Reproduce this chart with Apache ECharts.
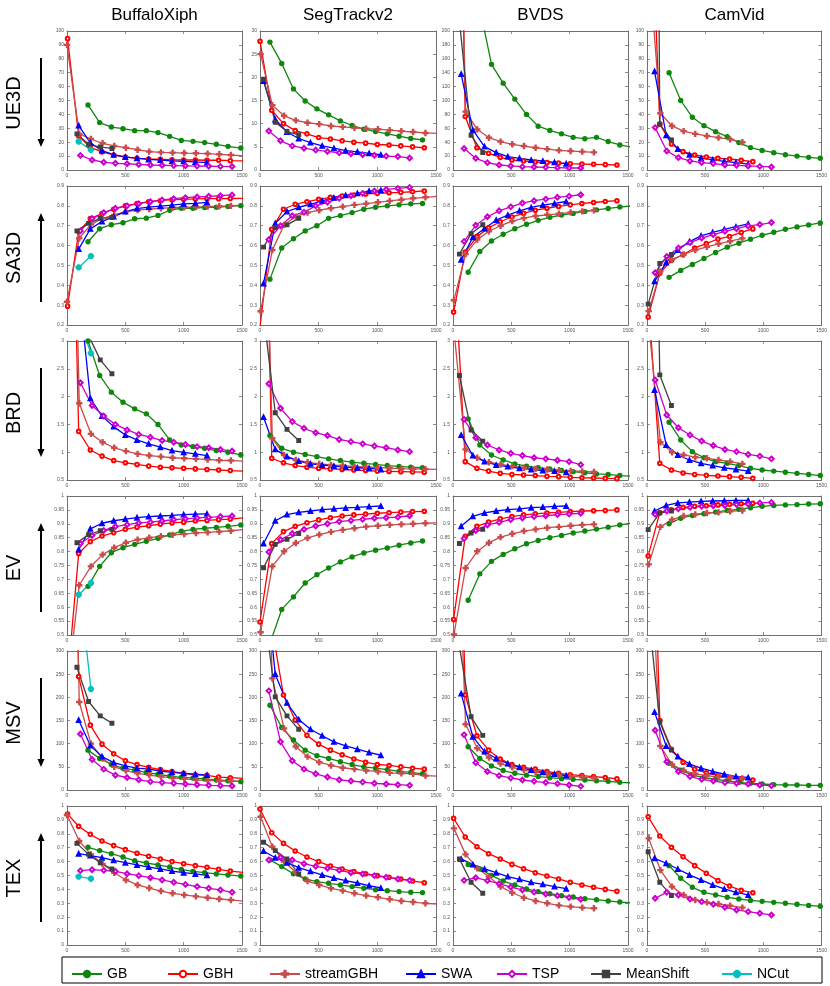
<!DOCTYPE html>
<html>
<head>
<meta charset="utf-8">
<script src="https://cdn.jsdelivr.net/npm/echarts/dist/echarts.min.js"></script>
<style>
html,body{margin:0;padding:0;background:#fff;}
#chart{width:830px;height:986px;}
</style>
</head>
<body>
<div id="chart"></div>
<script>
// ---------------- DATA ----------------
const datasets = ['BuffaloXiph', 'SegTrackv2', 'BVDS', 'CamVid'];
const metrics = ['UE3D', 'SA3D', 'BRD', 'EV', 'MSV', 'TEX'];
const methods = ['GB', 'GBH', 'streamGBH', 'SWA', 'TSP', 'MeanShift', 'NCut'];
const xTicks = [0, 500, 1000, 1500];
// [min, max, interval] of y axis per metric, per dataset
const yTicks_UE3D = [[0, 100, 10], [0, 30, 5], [0, 200, 20], [0, 100, 10]];
const yTicks_SA3D = [[0.2, 0.9, 0.1], [0.2, 0.9, 0.1], [0.2, 0.9, 0.1], [0.2, 0.9, 0.1]];
const yTicks_BRD = [[0.5, 3, 0.5], [0.5, 3, 0.5], [0.5, 3, 0.5], [0.5, 3, 0.5]];
const yTicks_EV = [[0.5, 1, 0.05], [0.5, 1, 0.05], [0.5, 1, 0.05], [0.5, 1, 0.05]];
const yTicks_MSV = [[0, 300, 50], [0, 300, 50], [0, 300, 50], [0, 300, 50]];
const yTicks_TEX = [[0, 1, 0.1], [0, 1, 0.1], [0, 1, 0.1], [0, 1, 0.1]];

// number of supervoxels (x) per dataset and method
const X_BuffaloXiph = {
  GB: [180, 280, 380, 480, 580, 680, 780, 880, 980, 1080, 1180, 1280, 1380, 1490],
  GBH: [5, 100, 200, 300, 400, 500, 600, 700, 800, 900, 1000, 1100, 1200, 1300, 1400, 1510],
  streamGBH: [0, 105, 205, 305, 405, 505, 605, 705, 805, 905, 1005, 1105, 1205, 1305, 1405, 1510],
  SWA: [100, 200, 300, 400, 500, 600, 700, 800, 900, 1000, 1100, 1200],
  TSP: [115, 215, 315, 415, 515, 615, 715, 815, 915, 1015, 1115, 1215, 1315, 1415],
  MeanShift: [85, 185, 285, 385],
  NCut: [100, 205]
};
const X_SegTrackv2 = {
  GB: [85, 185, 285, 385, 485, 585, 685, 785, 885, 985, 1085, 1185, 1285, 1385],
  GBH: [0, 100, 200, 300, 400, 500, 600, 700, 800, 900, 1000, 1100, 1200, 1300, 1400],
  streamGBH: [5, 105, 205, 305, 405, 505, 605, 705, 805, 905, 1005, 1105, 1205, 1305, 1410, 1510],
  SWA: [30, 130, 230, 330, 430, 530, 630, 730, 830, 930, 1030],
  TSP: [75, 175, 275, 375, 475, 575, 675, 775, 875, 975, 1075, 1175, 1275],
  MeanShift: [30, 130, 230, 330]
};
const X_BVDS = {
  GB: [130, 230, 330, 430, 530, 630, 730, 830, 930, 1030, 1130, 1230, 1330, 1430, 1530],
  GBH: [5, 105, 205, 305, 405, 505, 605, 705, 805, 905, 1005, 1105, 1205, 1305, 1405],
  streamGBH: [8, 108, 208, 308, 408, 508, 608, 708, 808, 908, 1008, 1108, 1208],
  SWA: [70, 170, 270, 370, 470, 570, 670, 770, 870, 970],
  TSP: [95, 195, 295, 395, 495, 595, 695, 795, 895, 995, 1095],
  MeanShift: [55, 155, 255]
};
const X_CamVid = {
  GB: [190, 290, 390, 490, 590, 690, 790, 890, 990, 1090, 1190, 1290, 1390, 1490],
  GBH: [10, 110, 210, 310, 410, 510, 610, 710, 810, 910],
  streamGBH: [15, 115, 215, 315, 415, 515, 615, 715, 820],
  SWA: [65, 165, 265, 365, 465, 565, 665, 765, 870],
  TSP: [70, 170, 270, 370, 470, 570, 670, 770, 870, 970, 1070],
  MeanShift: [10, 110, 210]
};

// ---- UE3D ----
const UE3D_BuffaloXiph = {
  GB: [46.8, 34.1, 30.9, 29.7, 28.3, 28.3, 26.9, 24.2, 21.3, 20.6, 19.7, 18.5, 17.0, 15.8],
  GBH: [94.5, 24.5, 16.3, 13, 10.8, 9.4, 8.4, 7.9, 7.7, 7.4, 7.2, 7.2, 7.0, 7.0, 6.7, 6.6],
  streamGBH: [90, 26, 22.3, 19.2, 17.3, 16, 14.6, 13.2, 12.7, 12.5, 12.2, 12, 11.8, 11.3, 10.8, 10.2],
  SWA: [32, 19.5, 14, 11, 9.3, 8.5, 7.6, 7.2, 6.5, 6.2, 5.8, 5.3],
  TSP: [10.5, 7.2, 5.6, 4.8, 4.5, 4.0, 3.6, 3.4, 3.2, 3.0, 2.8, 2.7, 2.6, 2.5],
  MeanShift: [26, 18.5, 16.5, 15.5],
  NCut: [20.5, 14.5]
};
const UE3D_SegTrackv2 = {
  GB: [27.6, 23.0, 17.5, 14.9, 13.2, 11.9, 10.6, 9.6, 8.8, 8.3, 7.8, 7.3, 6.8, 6.5],
  GBH: [27.8, 12.9, 10.0, 8.5, 7.8, 7.0, 6.7, 6.3, 6.0, 5.8, 5.5, 5.4, 5.2, 5.0, 4.8],
  streamGBH: [25, 14.0, 11.7, 10.7, 10.2, 9.9, 9.5, 9.3, 9.1, 8.9, 8.8, 8.6, 8.4, 8.2, 8.0, 7.9],
  SWA: [19.2, 10.9, 8.2, 6.8, 5.9, 5.2, 4.7, 4.2, 3.9, 3.6, 3.3],
  TSP: [8.4, 6.3, 5.2, 4.7, 4.3, 4.0, 3.7, 3.5, 3.3, 3.2, 3.0, 2.9, 2.6],
  MeanShift: [19.6, 10.3, 8.3, 7.6]
};
const UE3D_BVDS = {
  GB: [350, 233, 152, 125, 102, 80, 63, 57, 52, 47, 45, 47, 41, 36, 33],
  GBH: [950, 77, 32, 24, 18.2, 14.4, 13, 11.5, 10.6, 10, 9.1, 8.6, 8.2, 7.7, 7.2],
  streamGBH: [900, 84, 58.5, 46.5, 40.8, 37, 34.5, 32, 30, 28.3, 27.3, 26.4, 25.4],
  SWA: [138, 57.6, 33.6, 25, 19.2, 16.8, 14.4, 13, 11, 9.1],
  TSP: [31, 16.8, 10.6, 7.2, 5.8, 4.8, 4.3, 3.8, 3.4, 2.9, 2.9],
  MeanShift: [215, 50, 25]
};
const UE3D_CamVid = {
  GB: [70, 50, 37.9, 31.9, 27.6, 24, 19.7, 16.1, 14.1, 12.5, 11, 10, 9.1, 8.4],
  GBH: [256, 33, 18.7, 13.2, 10.8, 9.4, 8.4, 7.9, 7.0, 6.0],
  streamGBH: [150, 40.8, 31.7, 28, 26, 24.5, 23.3, 22, 20],
  SWA: [71, 25, 15, 11, 8.5, 7.4, 6.2, 5.3, 4.2],
  TSP: [30.5, 13.7, 8.9, 6.5, 5.3, 4.6, 3.6, 3.4, 2.9, 2.6, 2.2],
  MeanShift: [1300, 33, 21.6]
};

// ---- SA3D ----
const SA3D_BuffaloXiph = {
  GB: [0.619, 0.685, 0.705, 0.715, 0.735, 0.738, 0.752, 0.778, 0.788, 0.788, 0.792, 0.793, 0.797, 0.801],
  GBH: [0.295, 0.67, 0.736, 0.761, 0.783, 0.80, 0.811, 0.821, 0.826, 0.831, 0.833, 0.835, 0.836, 0.836, 0.837, 0.838],
  streamGBH: [0.317, 0.637, 0.707, 0.737, 0.754, 0.771, 0.779, 0.784, 0.788, 0.791, 0.793, 0.794, 0.796, 0.798, 0.80, 0.803],
  SWA: [0.582, 0.684, 0.721, 0.746, 0.771, 0.786, 0.794, 0.799, 0.804, 0.81, 0.813, 0.818],
  TSP: [0.674, 0.736, 0.766, 0.788, 0.80, 0.811, 0.821, 0.83, 0.836, 0.841, 0.845, 0.848, 0.851, 0.855],
  MeanShift: [0.674, 0.712, 0.737, 0.741],
  NCut: [0.49, 0.547]
};
const SA3D_SegTrackv2 = {
  GB: [0.431, 0.588, 0.634, 0.674, 0.70, 0.737, 0.751, 0.766, 0.783, 0.793, 0.80, 0.805, 0.81, 0.812],
  GBH: [0.19, 0.682, 0.783, 0.808, 0.821, 0.833, 0.843, 0.85, 0.855, 0.86, 0.863, 0.866, 0.868, 0.871, 0.875],
  streamGBH: [0.269, 0.577, 0.704, 0.746, 0.766, 0.778, 0.788, 0.796, 0.805, 0.811, 0.818, 0.825, 0.831, 0.838, 0.843, 0.848],
  SWA: [0.409, 0.712, 0.771, 0.793, 0.808, 0.825, 0.841, 0.853, 0.863, 0.875, 0.878],
  TSP: [0.63, 0.70, 0.75, 0.768, 0.80, 0.818, 0.838, 0.851, 0.863, 0.875, 0.883, 0.888, 0.893],
  MeanShift: [0.592, 0.691, 0.704, 0.737]
};
const SA3D_BVDS = {
  GB: [0.466, 0.57, 0.623, 0.657, 0.685, 0.707, 0.727, 0.742, 0.754, 0.762, 0.772, 0.78, 0.787, 0.794, 0.80],
  GBH: [0.265, 0.567, 0.645, 0.689, 0.72, 0.744, 0.762, 0.778, 0.788, 0.797, 0.805, 0.812, 0.817, 0.822, 0.826],
  streamGBH: [0.325, 0.557, 0.63, 0.672, 0.70, 0.723, 0.738, 0.749, 0.755, 0.76, 0.767, 0.772, 0.777],
  SWA: [0.528, 0.642, 0.686, 0.728, 0.754, 0.775, 0.792, 0.804, 0.812, 0.822],
  TSP: [0.621, 0.702, 0.745, 0.775, 0.795, 0.814, 0.826, 0.834, 0.843, 0.849, 0.856],
  MeanShift: [0.557, 0.66, 0.705]
};
const SA3D_CamVid = {
  GB: [0.44, 0.475, 0.505, 0.535, 0.565, 0.592, 0.612, 0.632, 0.652, 0.667, 0.682, 0.694, 0.704, 0.714],
  GBH: [0.24, 0.46, 0.525, 0.555, 0.588, 0.61, 0.633, 0.646, 0.666, 0.684],
  streamGBH: [0.27, 0.47, 0.53, 0.555, 0.577, 0.594, 0.609, 0.622, 0.636],
  SWA: [0.42, 0.515, 0.578, 0.62, 0.649, 0.667, 0.682, 0.695, 0.709],
  TSP: [0.463, 0.545, 0.588, 0.615, 0.638, 0.655, 0.672, 0.685, 0.699, 0.706, 0.716],
  MeanShift: [0.305, 0.51, 0.555]
};

// ---- BRD ----
const BRD_BuffaloXiph = {
  GB: [3.0, 2.38, 2.08, 1.90, 1.78, 1.69, 1.50, 1.22, 1.13, 1.10, 1.07, 1.03, 1.0, 0.95],
  GBH: [10, 1.375, 1.04, 0.93, 0.85, 0.81, 0.78, 0.75, 0.73, 0.72, 0.71, 0.70, 0.69, 0.68, 0.67, 0.66],
  streamGBH: [12, 1.88, 1.33, 1.18, 1.08, 1.02, 0.97, 0.94, 0.92, 0.90, 0.89, 0.88, 0.87, 0.855, 0.85, 0.84],
  SWA: [4.0, 1.97, 1.65, 1.46, 1.31, 1.22, 1.15, 1.09, 1.03, 0.996, 0.97, 0.94],
  TSP: [2.25, 1.84, 1.65, 1.50, 1.40, 1.32, 1.27, 1.21, 1.18, 1.14, 1.10, 1.08, 1.05, 1.02],
  MeanShift: [4.5, 3.1, 2.66, 2.41],
  NCut: [3.4, 2.78]
};
const BRD_SegTrackv2 = {
  GB: [1.3, 1.07, 1.0, 0.96, 0.92, 0.88, 0.85, 0.82, 0.80, 0.78, 0.76, 0.745, 0.73, 0.72],
  GBH: [11.4, 0.89, 0.81, 0.76, 0.73, 0.71, 0.70, 0.69, 0.68, 0.67, 0.66, 0.655, 0.65, 0.645, 0.64],
  streamGBH: [9, 1.25, 0.95, 0.86, 0.82, 0.79, 0.77, 0.76, 0.745, 0.735, 0.725, 0.715, 0.705, 0.70, 0.695, 0.69],
  SWA: [1.63, 1.05, 0.92, 0.84, 0.79, 0.77, 0.75, 0.73, 0.72, 0.71, 0.69],
  TSP: [2.23, 1.79, 1.55, 1.43, 1.35, 1.30, 1.23, 1.19, 1.15, 1.11, 1.08, 1.04, 1.01],
  MeanShift: [3.5, 1.71, 1.41, 1.21]
};
const BRD_BVDS = {
  GB: [1.6, 1.13, 0.95, 0.86, 0.79, 0.75, 0.72, 0.70, 0.67, 0.65, 0.63, 0.61, 0.60, 0.58, 0.57],
  GBH: [4.7, 0.83, 0.71, 0.66, 0.62, 0.60, 0.59, 0.58, 0.566, 0.56, 0.548, 0.54, 0.536, 0.53, 0.524],
  streamGBH: [3.2, 1.05, 0.9, 0.82, 0.78, 0.75, 0.72, 0.70, 0.69, 0.675, 0.665, 0.655, 0.645],
  SWA: [1.31, 0.94, 0.83, 0.77, 0.74, 0.71, 0.69, 0.67, 0.66, 0.64],
  TSP: [1.59, 1.26, 1.13, 1.04, 0.98, 0.94, 0.90, 0.88, 0.855, 0.83, 0.775],
  MeanShift: [2.38, 1.40, 1.2]
};
const BRD_CamVid = {
  GB: [1.54, 1.22, 1.01, 0.90, 0.83, 0.80, 0.76, 0.71, 0.68, 0.66, 0.64, 0.62, 0.60, 0.58],
  GBH: [3.8, 0.80, 0.68, 0.626, 0.60, 0.584, 0.572, 0.56, 0.548, 0.53],
  streamGBH: [3.3, 1.18, 1.0, 0.95, 0.91, 0.89, 0.86, 0.83, 0.79],
  SWA: [2.12, 1.13, 0.95, 0.86, 0.80, 0.76, 0.72, 0.69, 0.66],
  TSP: [2.30, 1.67, 1.44, 1.31, 1.20, 1.12, 1.05, 1.01, 0.96, 0.93, 0.88],
  MeanShift: [14, 2.39, 1.84]
};

// ---- EV ----
const EV_BuffaloXiph = {
  GB: [0.675, 0.747, 0.796, 0.814, 0.826, 0.837, 0.848, 0.86, 0.873, 0.88, 0.884, 0.887, 0.891, 0.896],
  GBH: [0.34, 0.793, 0.836, 0.856, 0.868, 0.88, 0.888, 0.893, 0.899, 0.903, 0.906, 0.91, 0.912, 0.915, 0.917, 0.921],
  streamGBH: [0.3, 0.679, 0.747, 0.789, 0.814, 0.832, 0.843, 0.85, 0.855, 0.86, 0.863, 0.867, 0.869, 0.872, 0.875, 0.879],
  SWA: [0.807, 0.882, 0.902, 0.911, 0.917, 0.922, 0.926, 0.928, 0.93, 0.933, 0.935, 0.936],
  TSP: [0.829, 0.858, 0.876, 0.89, 0.897, 0.903, 0.906, 0.91, 0.915, 0.918, 0.921, 0.923, 0.926, 0.928],
  MeanShift: [0.832, 0.861, 0.875, 0.88],
  NCut: [0.645, 0.687]
};
const EV_SegTrackv2 = {
  GB: [0.47, 0.592, 0.637, 0.687, 0.717, 0.741, 0.763, 0.781, 0.795, 0.805, 0.813, 0.823, 0.831, 0.838],
  GBH: [0.547, 0.829, 0.872, 0.891, 0.904, 0.914, 0.922, 0.928, 0.932, 0.935, 0.938, 0.94, 0.942, 0.944, 0.945],
  streamGBH: [0.51, 0.747, 0.801, 0.831, 0.849, 0.861, 0.871, 0.878, 0.884, 0.89, 0.893, 0.896, 0.898, 0.90, 0.902, 0.903],
  SWA: [0.829, 0.911, 0.933, 0.941, 0.946, 0.951, 0.954, 0.957, 0.959, 0.962, 0.964],
  TSP: [0.799, 0.843, 0.865, 0.88, 0.892, 0.90, 0.908, 0.912, 0.916, 0.92, 0.922, 0.924, 0.929],
  MeanShift: [0.742, 0.826, 0.844, 0.865]
};
const EV_BVDS = {
  GB: [0.625, 0.72, 0.765, 0.79, 0.81, 0.828, 0.84, 0.85, 0.858, 0.867, 0.874, 0.881, 0.888, 0.896, 0.902],
  GBH: [0.556, 0.855, 0.891, 0.906, 0.918, 0.926, 0.932, 0.936, 0.939, 0.941, 0.944, 0.946, 0.947, 0.948, 0.95],
  streamGBH: [0.502, 0.741, 0.801, 0.832, 0.852, 0.864, 0.874, 0.88, 0.886, 0.889, 0.893, 0.896, 0.898],
  SWA: [0.891, 0.927, 0.939, 0.946, 0.951, 0.954, 0.958, 0.96, 0.963, 0.964],
  TSP: [0.847, 0.876, 0.896, 0.905, 0.915, 0.921, 0.926, 0.929, 0.933, 0.935, 0.938],
  MeanShift: [0.829, 0.867, 0.88]
};
const EV_CamVid = {
  GB: [0.90, 0.92, 0.93, 0.936, 0.942, 0.948, 0.952, 0.958, 0.963, 0.966, 0.968, 0.969, 0.971, 0.972],
  GBH: [0.784, 0.94, 0.95, 0.959, 0.963, 0.965, 0.968, 0.97, 0.972, 0.974],
  streamGBH: [0.754, 0.889, 0.915, 0.928, 0.934, 0.939, 0.941, 0.945, 0.948],
  SWA: [0.946, 0.966, 0.975, 0.978, 0.981, 0.982, 0.983, 0.984, 0.984],
  TSP: [0.934, 0.946, 0.954, 0.959, 0.963, 0.965, 0.966, 0.969, 0.971, 0.975, 0.977],
  MeanShift: [0.879, 0.939, 0.946]
};

// ---- MSV ----
const MSV_BuffaloXiph = {
  GB: [86, 68, 55, 47, 43, 38, 34, 30, 27.3, 26, 24, 21.6, 20, 18],
  GBH: [1500, 245, 140, 99, 78, 63, 55, 49, 44, 40, 36, 33, 31.6, 28, 26.6, 25],
  streamGBH: [1500, 190, 100, 68, 50, 42, 36, 32, 29, 26, 24, 22, 21, 20, 19.4, 18],
  SWA: [151, 96, 72, 59, 52, 47, 45, 41, 38, 36, 34, 32],
  TSP: [121, 66, 45, 32, 27, 22, 18, 16, 14.4, 13, 11.5, 10, 9.4, 8.6],
  MeanShift: [265, 191, 160, 144],
  NCut: [460, 218]
};
const MSV_SegTrackv2 = {
  GB: [183, 135, 108, 86, 74, 68, 61, 55, 50, 47, 44, 40, 38, 35],
  GBH: [1000, 353, 205, 151, 118, 99, 86, 76, 67, 60, 55, 53, 50, 47, 45],
  streamGBH: [1000, 241, 133, 94, 72, 60, 53, 48, 45, 42, 40, 37, 36, 35, 31, 30],
  SWA: [500, 250, 188, 152, 131, 117, 104, 95, 88, 81, 75],
  TSP: [214, 104, 63, 45, 35, 28, 22, 19.4, 17, 14.4, 13, 11.5, 10],
  MeanShift: [400, 201, 160, 131]
};
const MSV_BVDS = {
  GB: [93.5, 68, 52, 42, 36, 32, 29, 26.6, 24.5, 23, 21.6, 20, 18.7, 16.5, 15.5],
  GBH: [1200, 205, 117, 86, 67, 55, 49, 45, 40, 36, 33, 31, 29, 27, 24],
  streamGBH: [800, 142, 90, 70, 57, 49, 43, 39, 35, 32, 30, 28, 26],
  SWA: [208, 115, 83, 68, 57, 49, 43, 38, 34.5, 31],
  TSP: [119, 59, 40, 31, 26, 21.6, 18.7, 16, 13.7, 10.8, 7.9],
  MeanShift: [310, 158, 118]
};
const MSV_CamVid = {
  GB: [57.6, 43, 32, 27, 23, 20, 16.5, 14.4, 13, 11.5, 10.8, 10.8, 10, 10],
  GBH: [1000, 150, 88, 60, 45, 37, 31, 27, 24, 21.6],
  streamGBH: [600, 95, 55, 42, 35, 31, 28, 26, 25],
  SWA: [168, 95, 72, 56, 47, 40, 34, 29, 27],
  TSP: [129, 61, 40, 29, 23, 19.4, 16, 14.4, 13, 10.8, 9.4],
  MeanShift: [390, 147, 86]
};

// ---- TEX ----
const TEX_BuffaloXiph = {
  GB: [0.703, 0.679, 0.657, 0.633, 0.607, 0.59, 0.576, 0.561, 0.544, 0.53, 0.52, 0.511, 0.504, 0.496],
  GBH: [0.942, 0.854, 0.796, 0.748, 0.715, 0.686, 0.66, 0.638, 0.619, 0.60, 0.585, 0.571, 0.559, 0.544, 0.532, 0.522],
  streamGBH: [0.935, 0.748, 0.652, 0.583, 0.52, 0.468, 0.432, 0.41, 0.388, 0.372, 0.36, 0.35, 0.34, 0.331, 0.324, 0.316],
  SWA: [0.657, 0.643, 0.628, 0.609, 0.592, 0.576, 0.561, 0.547, 0.532, 0.52, 0.511, 0.501],
  TSP: [0.535, 0.542, 0.537, 0.53, 0.513, 0.499, 0.484, 0.468, 0.451, 0.436, 0.42, 0.408, 0.396, 0.379],
  MeanShift: [0.731, 0.652, 0.592, 0.547],
  NCut: [0.492, 0.477]
};
const TEX_SegTrackv2 = {
  GB: [0.612, 0.564, 0.513, 0.475, 0.456, 0.444, 0.432, 0.42, 0.408, 0.398, 0.391, 0.384, 0.379, 0.377],
  GBH: [0.978, 0.808, 0.731, 0.676, 0.633, 0.60, 0.568, 0.547, 0.528, 0.513, 0.499, 0.487, 0.475, 0.46, 0.448],
  streamGBH: [0.923, 0.707, 0.60, 0.523, 0.46, 0.432, 0.408, 0.391, 0.372, 0.355, 0.343, 0.329, 0.317, 0.309, 0.30, 0.295],
  SWA: [0.676, 0.628, 0.592, 0.556, 0.53, 0.504, 0.482, 0.463, 0.446, 0.427, 0.41],
  TSP: [0.612, 0.631, 0.612, 0.585, 0.566, 0.552, 0.537, 0.52, 0.511, 0.499, 0.487, 0.475, 0.465],
  MeanShift: [0.739, 0.679, 0.619, 0.511]
};
const TEX_BVDS = {
  GB: [0.58, 0.547, 0.501, 0.46, 0.432, 0.403, 0.384, 0.369, 0.355, 0.345, 0.333, 0.326, 0.317, 0.309, 0.303],
  GBH: [0.911, 0.777, 0.707, 0.657, 0.619, 0.58, 0.549, 0.52, 0.496, 0.475, 0.451, 0.432, 0.415, 0.40, 0.386],
  streamGBH: [0.839, 0.652, 0.552, 0.492, 0.42, 0.376, 0.34, 0.317, 0.30, 0.285, 0.276, 0.269, 0.264],
  SWA: [0.619, 0.578, 0.547, 0.52, 0.492, 0.472, 0.451, 0.436, 0.42, 0.405],
  TSP: [0.465, 0.484, 0.463, 0.441, 0.417, 0.396, 0.381, 0.367, 0.355, 0.341, 0.329],
  MeanShift: [0.619, 0.451, 0.372]
};
const TEX_CamVid = {
  GB: [0.571, 0.48, 0.415, 0.379, 0.36, 0.343, 0.331, 0.321, 0.314, 0.307, 0.30, 0.293, 0.285, 0.278],
  GBH: [0.923, 0.784, 0.703, 0.635, 0.571, 0.516, 0.463, 0.424, 0.393, 0.376],
  streamGBH: [0.767, 0.539, 0.42, 0.36, 0.324, 0.307, 0.295, 0.283, 0.269],
  SWA: [0.623, 0.588, 0.547, 0.504, 0.468, 0.432, 0.403, 0.379, 0.36],
  TSP: [0.336, 0.379, 0.36, 0.331, 0.312, 0.293, 0.271, 0.252, 0.24, 0.228, 0.216],
  MeanShift: [0.671, 0.451, 0.355]
};

// ---------------- ASSEMBLY ----------------
const X = { BuffaloXiph: X_BuffaloXiph, SegTrackv2: X_SegTrackv2, BVDS: X_BVDS, CamVid: X_CamVid };
const Y = {
  UE3D: [UE3D_BuffaloXiph, UE3D_SegTrackv2, UE3D_BVDS, UE3D_CamVid],
  SA3D: [SA3D_BuffaloXiph, SA3D_SegTrackv2, SA3D_BVDS, SA3D_CamVid],
  BRD: [BRD_BuffaloXiph, BRD_SegTrackv2, BRD_BVDS, BRD_CamVid],
  EV: [EV_BuffaloXiph, EV_SegTrackv2, EV_BVDS, EV_CamVid],
  MSV: [MSV_BuffaloXiph, MSV_SegTrackv2, MSV_BVDS, MSV_CamVid],
  TEX: [TEX_BuffaloXiph, TEX_SegTrackv2, TEX_BVDS, TEX_CamVid]
};
const YT = { UE3D: yTicks_UE3D, SA3D: yTicks_SA3D, BRD: yTicks_BRD, EV: yTicks_EV, MSV: yTicks_MSV, TEX: yTicks_TEX };
const arrowUp = { UE3D: false, SA3D: true, BRD: false, EV: true, MSV: false, TEX: true };

const PLUS = 'path://M2,0H3V2H5V3H3V5H2V3H0V2H2Z';
const STAR = 'path://M2.1,0H2.9V2.1H5V2.9H2.9V5H2.1V2.9H0V2.1H2.1Z M0.6,1.1L1.1,0.6L4.4,3.9L3.9,4.4Z M3.9,0.6L4.4,1.1L1.1,4.4L0.6,3.9Z';
const STYLE = {
  GB: { color: '#0f870f', symbol: 'circle', size: 4 },
  GBH: { color: '#ff0000', symbol: 'emptyCircle', size: 3.6 },
  streamGBH: { color: '#c84c4c', symbol: PLUS, size: 5 },
  SWA: { color: '#0000ff', symbol: 'triangle', size: 4.5 },
  TSP: { color: '#cc00cc', symbol: 'emptyDiamond', size: 4.6 },
  MeanShift: { color: '#404040', symbol: 'rect', size: 3.5 },
  NCut: { color: '#00c0c0', symbol: STAR, size: 5 }
};

const GRID_LEFT = [67, 260, 453, 647];
const GRID_W = [175, 176, 175, 175];
const GRID_TOP = [31, 186, 341, 496, 651, 806];
const GRID_H = 139;
const FONT = '"Liberation Sans", Arial, Helvetica, sans-serif';
const AX = '#707070';

const grids = [], xAxes = [], yAxes = [], series = [];
metrics.forEach((m, r) => {
  datasets.forEach((d, c) => {
    const g = grids.length;
    grids.push({ left: GRID_LEFT[c], top: GRID_TOP[r], width: GRID_W[c], height: GRID_H });
    const tickCommon = { show: true, inside: true, length: 3, lineStyle: { color: AX, width: 0.8 } };
    const lineCommon = { show: true, onZero: false, lineStyle: { color: AX, width: 1 } };
    xAxes.push({
      gridIndex: g, type: 'value', position: 'bottom', min: xTicks[0], max: xTicks[xTicks.length - 1],
      interval: xTicks[1] - xTicks[0],
      axisLine: lineCommon, axisTick: tickCommon, splitLine: { show: false },
      axisLabel: { show: true, fontSize: 5, color: '#555', margin: 3, fontFamily: FONT,
        formatter: v => String(v) }
    });
    xAxes.push({
      gridIndex: g, type: 'value', position: 'top', min: xTicks[0], max: xTicks[xTicks.length - 1],
      interval: xTicks[1] - xTicks[0],
      axisLine: lineCommon, axisTick: tickCommon, splitLine: { show: false }, axisLabel: { show: false }
    });
    const yt = YT[m][c];
    yAxes.push({
      gridIndex: g, type: 'value', position: 'left', min: yt[0], max: yt[1], interval: yt[2],
      axisLine: lineCommon, axisTick: tickCommon, splitLine: { show: false },
      axisLabel: { show: true, fontSize: 5, color: '#555', margin: 3, fontFamily: FONT,
        formatter: v => String(+v.toFixed(3)) }
    });
    yAxes.push({
      gridIndex: g, type: 'value', position: 'right', min: yt[0], max: yt[1], interval: yt[2],
      axisLine: lineCommon, axisTick: tickCommon, splitLine: { show: false }, axisLabel: { show: false }
    });
    methods.forEach(meth => {
      const ys = Y[m][c][meth];
      const xs = X[d][meth];
      if (!ys || !xs) return;
      const st = STYLE[meth];
      series.push({
        name: meth, type: 'line', xAxisIndex: 2 * g, yAxisIndex: 2 * g,
        data: xs.map((x, i) => [x, ys[i]]),
        symbol: st.symbol, symbolSize: st.size, showSymbol: true,
        lineStyle: { color: st.color, width: 1.3 },
        itemStyle: { color: st.color, borderColor: st.color, borderWidth: 1.4 },
        clip: true, silent: true, animation: false
      });
    });
  });
});

// legend: one component per item, inside a box
const legendLeft = [66, 162, 264, 400, 491, 585, 716];
const legends = methods.map((meth, i) => ({
  data: [meth], left: legendLeft[i], top: 962, orient: 'horizontal',
  itemWidth: 30, itemHeight: 8, itemGap: 0, selectedMode: false,
  textStyle: { fontSize: 14, color: '#000', fontFamily: FONT }
}));

const graphics = [];
graphics.push({ type: 'rect', shape: { x: 62, y: 957, width: 760, height: 26 },
  style: { fill: 'none', stroke: '#000', lineWidth: 1 }, z: 0 });
datasets.forEach((d, c) => {
  graphics.push({ type: 'text', x: GRID_LEFT[c] + GRID_W[c] / 2, y: 15,
    style: { text: d, fontSize: 17, fontFamily: FONT, fill: '#000', align: 'center', verticalAlign: 'middle' } });
});
metrics.forEach((m, r) => {
  const cy = GRID_TOP[r] + GRID_H / 2 + 2.5;
  graphics.push({ type: 'text', x: 14, y: cy, rotation: Math.PI / 2,
    style: { text: m, fontSize: 20, fontFamily: FONT, fill: '#000', align: 'center', verticalAlign: 'middle' } });
  const top = GRID_TOP[r] + 27, bot = GRID_TOP[r] + 116;
  const ax = 41;
  if (arrowUp[m]) {
    graphics.push({ type: 'line', shape: { x1: ax, y1: bot, x2: ax, y2: top + 7 }, style: { stroke: '#000', lineWidth: 2 } });
    graphics.push({ type: 'polygon', shape: { points: [[ax - 3.5, top + 8], [ax + 3.5, top + 8], [ax, top]] }, style: { fill: '#000' } });
  } else {
    graphics.push({ type: 'line', shape: { x1: ax, y1: top, x2: ax, y2: bot - 7 }, style: { stroke: '#000', lineWidth: 2 } });
    graphics.push({ type: 'polygon', shape: { points: [[ax - 3.5, bot - 8], [ax + 3.5, bot - 8], [ax, bot]] }, style: { fill: '#000' } });
  }
});

const chart = echarts.init(document.getElementById('chart'), null, { renderer: 'canvas' });
chart.setOption({
  animation: false,
  backgroundColor: '#fff',
  grid: grids,
  xAxis: xAxes,
  yAxis: yAxes,
  series: series,
  legend: legends,
  graphic: graphics
});
</script>
</body>
</html>
